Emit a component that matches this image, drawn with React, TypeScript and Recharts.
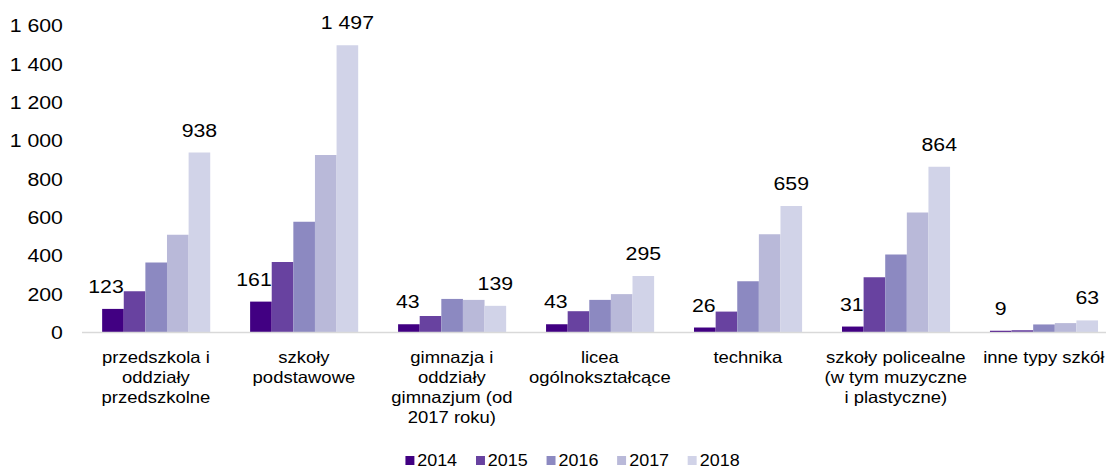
import React from 'react';
import { BarChart, Bar, XAxis, YAxis, Legend, LabelList } from 'recharts';

const categories = [
  'przedszkola i\noddziały\nprzedszkolne',
  'szkoły\npodstawowe',
  'gimnazja i\noddziały\ngimnazjum (od\n2017 roku)',
  'licea\nogólnokształcące',
  'technika',
  'szkoły policealne\n(w tym muzyczne\ni plastyczne)',
  'inne typy szkół',
];

const years = ['2014', '2015', '2016', '2017', '2018'];
const colors = ['#410082', '#6842a0', '#8c89c1', '#b9b9d9', '#d1d3e8'];

const v2014 = [123, 161, 43, 43, 26, 31, 9];
const v2015 = [215, 367, 86, 111, 109, 288, 12];
const v2016 = [365, 577, 175, 170, 267, 407, 42];
const v2017 = [509, 925, 170, 200, 512, 626, 49];
const v2018 = [938, 1497, 139, 295, 659, 864, 63];

const yTicks = [0, 200, 400, 600, 800, 1000, 1200, 1400, 1600];

const seriesValues = [v2014, v2015, v2016, v2017, v2018];

const data = categories.map((c, i) => {
  const row: Record<string, string | number> = { cat: c };
  years.forEach((y, k) => {
    row[y] = seriesValues[k][i];
  });
  return row;
});

const FONT = '"Liberation Sans", Arial, Helvetica, sans-serif';
const fmt = (v: number) => String(v).replace(/\B(?=(\d{3})+(?!\d))/g, ' ');

const LABEL_FS = 19;
const textW = (s: string) =>
  s.split('').reduce((a, ch) => a + (ch === ' ' ? 0.278 : 0.556), 0) * LABEL_FS;

const makeLabel = (clampRight: boolean) => (props: any) => {
  const vb = props.viewBox && props.viewBox.width != null ? props.viewBox : props;
  const x = Number(vb.x);
  const y = Number(vb.y);
  const w = Number(vb.width);
  const s = fmt(Number(props.value));
  const cx = x + w / 2;
  const tx = clampRight ? Math.min(cx, x + w - textW(s) / 2) : cx;
  return (
    <text x={tx} y={y - 16} textAnchor="middle" fontSize={LABEL_FS} fontFamily={FONT} fill="#000">
      {s}
    </text>
  );
};

const CatTick = (props: any) => {
  const { x, y, payload } = props;
  const lines = String(payload.value).split('\n');
  return (
    <text x={x} y={y} textAnchor="middle" fontSize={16.5} fontFamily={FONT} fill="#000">
      {lines.map((l, i) => (
        <tspan key={i} x={x} y={y + 30.5 + i * 20}>
          {l}
        </tspan>
      ))}
    </text>
  );
};

const LegendContent = (props: any) => {
  const payload = props.payload || [];
  return (
    <div
      style={{
        display: 'flex',
        alignItems: 'center',
        fontFamily: FONT,
        fontSize: 16,
        lineHeight: '18px',
        height: 18,
        color: '#000',
        whiteSpace: 'nowrap',
      }}
    >
      {payload.map((p: any, i: number) => (
        <div
          key={i}
          style={{ display: 'flex', alignItems: 'center', marginRight: 16, flexShrink: 0 }}
        >
          <span
            style={{
              display: 'inline-block',
              width: 8,
              height: 9,
              background: p.color,
              marginRight: 2.5,
              flexShrink: 0,
            }}
          />
          <span style={{ flexShrink: 0, paddingRight: 1 }}>{p.value}</span>
        </div>
      ))}
    </div>
  );
};

export default function App() {
  return (
    <div
      style={{
        position: 'fixed',
        left: 0,
        top: 0,
        width: 1106,
        height: 470,
        overflow: 'hidden',
        background: '#fff',
      }}
    >
      <div style={{ transform: 'scaleX(1.12)', transformOrigin: '0 0', width: 1003, height: 470 }}>
        <BarChart
          width={1003}
          height={470}
          data={data}
          margin={{ top: 25.5, right: 5, bottom: 0, left: 0 }}
          barGap={0}
          barCategoryGap="13.5%"
        >
          <XAxis
            dataKey="cat"
            interval={0}
            tickLine={false}
            tickSize={0}
            tickMargin={0}
            height={137.5}
            axisLine={{ stroke: '#d9d9d9', strokeWidth: 1.6 }}
            tick={<CatTick />}
          />
          <YAxis
            width={73.2}
            domain={[0, 1600]}
            ticks={yTicks}
            interval={0}
            axisLine={false}
            tickLine={false}
            tickSize={0}
            tickMargin={17}
            tickFormatter={fmt}
            tick={{ fontSize: 19, fill: '#000', fontFamily: FONT }}
          />
          <Legend
            verticalAlign="middle"
            layout="horizontal"
            align="center"
            content={<LegendContent />}
            wrapperStyle={{ top: 451.5, left: 362, width: 420, height: 18 }}
          />
          {years.map((y, k) => (
            <Bar key={y} dataKey={y} name={y} fill={colors[k]} barSize={19.3} isAnimationActive={false}>
              {k === 0 && <LabelList dataKey={y} content={makeLabel(true)} />}
              {k === 4 && <LabelList dataKey={y} content={makeLabel(false)} />}
            </Bar>
          ))}
        </BarChart>
      </div>
    </div>
  );
}
